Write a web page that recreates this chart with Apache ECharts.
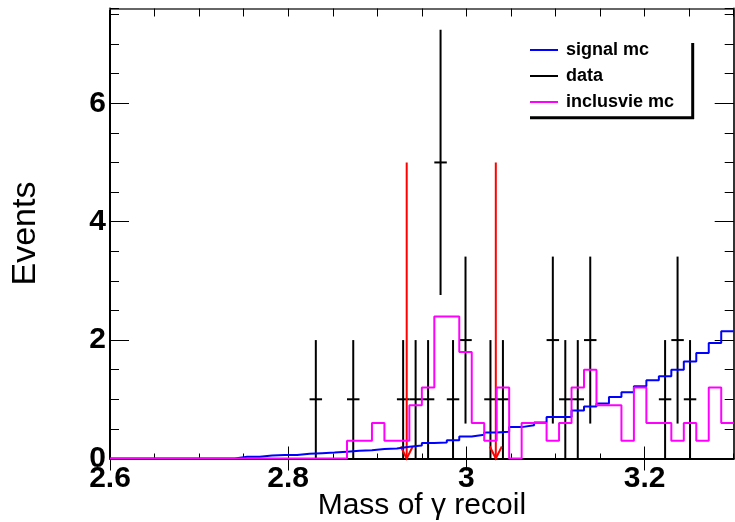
<!DOCTYPE html>
<html>
<head>
<meta charset="utf-8">
<script src="https://cdn.jsdelivr.net/npm/echarts@6/dist/echarts.min.js"></script>
<style>
  html, body { margin: 0; padding: 0; background: #fff; }
  #chart { width: 735px; height: 522px; }
</style>
</head>
<body>
<div id="chart"></div>
<script>
// Binning of the recoil-mass histograms: 50 bins from 2.6 to 3.3
const X_MIN = 2.6;
const X_MAX = 3.3;
const BIN_W = 0.014;

const xTickLabels = [2.6, 2.8, 3, 3.2];
const yTickLabels = [0, 2, 4, 6];

// signal MC, events per bin
const signalMC = [
  0, 0, 0, 0, 0, 0, 0, 0, 0, 0,
  0.03, 0.03, 0.05, 0.06, 0.06, 0.08, 0.09, 0.10, 0.115, 0.13,
  0.14, 0.16, 0.17, 0.20, 0.22, 0.26, 0.27, 0.31, 0.37, 0.40,
  0.44, 0.45, 0.53, 0.56, 0.61, 0.70, 0.70, 0.81, 0.88, 0.93,
  1.04, 1.12, 1.22, 1.32, 1.39, 1.50, 1.64, 1.78, 1.95, 2.15
];

// inclusive MC, events per bin
const inclusiveMC = [
  0, 0, 0, 0, 0, 0, 0, 0, 0, 0,
  0, 0, 0, 0, 0, 0, 0, 0, 0, 0.3,
  0.3, 0.6, 0.3, 0.3, 0.9, 1.2, 2.4, 2.4, 1.8, 0.6,
  0.3, 1.2, 0, 0.6, 0.6, 0.3, 0.6, 1.2, 1.5, 0.9,
  0.9, 0.3, 1.2, 0.6, 0.6, 0.3, 0.6, 0.3, 1.2, 0.6
];

// data: filled bins, counts and their errors
const dataBins   = [16, 19, 23, 24, 25, 26, 27, 28, 30, 31, 35, 36, 37, 38, 44, 45, 46];
const dataCounts = [1, 1, 1, 1, 1, 5, 1, 2, 1, 1, 2, 1, 1, 2, 1, 2, 1];
const dataErrors = [1, 1, 1, 1, 1, 2.24, 1, 1.41, 1, 1, 1.41, 1, 1, 1.41, 1, 1.41, 1];

// signal window cut positions (arrows drawn from height 5 down to 0)
const cutX = [2.933, 3.033];
const cutTop = 5;

const FONT = 'Liberation Sans';

// histogram outline as points at the bin low edges, closed at the upper edge
function histPoints(values) {
  const pts = values.map((v, k) => [X_MIN + k * BIN_W, v]);
  pts.push([X_MAX, values[values.length - 1]]);
  return pts;
}

const dataPts = dataBins.map((k, i) => [X_MIN + (k + 0.5) * BIN_W, dataCounts[i], dataErrors[i]]);
const cutPts = cutX.map(x => [x, cutTop]);

function renderDataPoint(params, api) {
  const xc = api.value(0), v = api.value(1), e = api.value(2);
  const top = api.coord([xc, v + e]);
  const bot = api.coord([xc, Math.max(v - e, 0)]);
  const left = api.coord([xc - BIN_W / 2, v]);
  const right = api.coord([xc + BIN_W / 2, v]);
  const st = { stroke: '#000', lineWidth: 2 };
  return {
    type: 'group',
    children: [
      { type: 'line', shape: { x1: top[0], y1: top[1], x2: bot[0], y2: bot[1] }, style: st },
      { type: 'line', shape: { x1: left[0], y1: left[1], x2: right[0], y2: right[1] }, style: st }
    ]
  };
}

function renderCut(params, api) {
  const x = api.value(0);
  const top = api.coord([x, api.value(1)]);
  const bot = api.coord([x, 0]);
  const st = { stroke: '#ff0000', lineWidth: 2, fill: null };
  return {
    type: 'group',
    children: [
      { type: 'line', shape: { x1: top[0], y1: top[1], x2: bot[0], y2: bot[1] }, style: st },
      { type: 'polyline', shape: { points: [[bot[0] - 6, bot[1] - 12], [bot[0], bot[1]], [bot[0] + 6, bot[1] - 12]] }, style: st }
    ]
  };
}

const tickLabelStyle = { fontFamily: FONT, fontWeight: 'bold', fontSize: 30, color: '#000' };

function xAxisBase(pos) {
  return {
    type: 'value', min: X_MIN, max: X_MAX, position: pos,
    splitLine: { show: false }, axisLabel: { show: false },
    axisLine: { show: false }
  };
}
function yAxisBase(pos) {
  return {
    type: 'value', min: 0, max: 7.6, position: pos,
    splitLine: { show: false }, axisLabel: { show: false },
    axisLine: { show: false }
  };
}

const chart = echarts.init(document.getElementById('chart'), null, { renderer: 'canvas' });
chart.setOption({
  animation: false,
  backgroundColor: '#fff',
  grid: { left: 110, top: 8.5, width: 623.7, height: 450, outerBoundsMode: 'none', containLabel: false },
  legend: {
    orient: 'vertical', left: 530, top: 41, padding: 0,
    icon: 'rect', itemWidth: 28, itemHeight: 2, itemGap: 8,
    selectedMode: false,
    data: ['signal mc', 'data', 'inclusvie mc'],
    textStyle: { fontFamily: FONT, fontWeight: 'bold', fontSize: 18, color: '#000', padding: [0, 0, 0, 3] }
  },
  graphic: [
    { type: 'line', shape: { x1: 692.7, y1: 43, x2: 692.7, y2: 119 }, style: { stroke: '#000', lineWidth: 3 }, z: 100 },
    { type: 'line', shape: { x1: 530, y1: 117.7, x2: 694, y2: 117.7 }, style: { stroke: '#000', lineWidth: 3 }, z: 100 }
  ],
  xAxis: [
    Object.assign(xAxisBase('bottom'), {
      interval: 0.05,
      axisLine: { show: true, onZero: false, lineStyle: { color: '#000', width: 2 } },
      axisTick: { show: true, inside: true, length: 5, lineStyle: { color: '#000', width: 1 } },
      axisLabel: {
        show: true, customValues: xTickLabels, margin: 5,
        formatter: v => String(Math.round(v * 10) / 10),
        ...tickLabelStyle
      },
      name: 'Mass of γ recoil', nameLocation: 'middle', nameGap: 32, nameMoveOverlap: false,
      nameTextStyle: { fontFamily: FONT, fontSize: 30, color: '#000' }
    }),
    Object.assign(xAxisBase('bottom'), {
      axisTick: { show: true, inside: true, length: 12, customValues: xTickLabels, lineStyle: { color: '#000', width: 1 } }
    }),
    Object.assign(xAxisBase('top'), {
      interval: 0.05,
      axisLine: { show: true, onZero: false, lineStyle: { color: '#666', width: 2 } },
      axisTick: { show: true, inside: true, length: 8, lineStyle: { color: '#000', width: 1 } }
    }),
    Object.assign(xAxisBase('top'), {
      axisTick: { show: true, inside: true, length: 12, customValues: xTickLabels, lineStyle: { color: '#000', width: 1 } }
    })
  ],
  yAxis: [
    Object.assign(yAxisBase('left'), {
      interval: 0.5,
      axisLine: { show: true, onZero: false, lineStyle: { color: '#000', width: 2 } },
      axisTick: { show: true, inside: true, length: 9, lineStyle: { color: '#000', width: 1 } },
      axisLabel: {
        show: true, customValues: yTickLabels, margin: 4,
        formatter: v => String(Math.round(v)),
        ...tickLabelStyle
      },
      name: 'Events', nameLocation: 'middle', nameGap: 67, nameRotate: 90, nameMoveOverlap: false,
      nameTextStyle: { fontFamily: FONT, fontSize: 34, color: '#000' }
    }),
    Object.assign(yAxisBase('left'), {
      axisTick: { show: true, inside: true, length: 19, customValues: yTickLabels, lineStyle: { color: '#000', width: 1 } }
    }),
    Object.assign(yAxisBase('right'), {
      interval: 0.5,
      axisLine: { show: true, onZero: false, lineStyle: { color: '#333', width: 2 } },
      axisTick: { show: true, inside: true, length: 9, lineStyle: { color: '#000', width: 1 } }
    }),
    Object.assign(yAxisBase('right'), {
      axisTick: { show: true, inside: true, length: 19, customValues: yTickLabels, lineStyle: { color: '#000', width: 1 } }
    })
  ],
  series: [
    {
      name: 'signal mc', type: 'line', step: 'end', data: histPoints(signalMC),
      showSymbol: false, symbol: 'none',
      lineStyle: { color: '#0000ff', width: 2 }, itemStyle: { color: '#0000ff' }
    },
    {
      name: 'data', type: 'custom', renderItem: renderDataPoint, data: dataPts,
      itemStyle: { color: '#000' }, encode: { x: 0, y: 1 }
    },
    {
      name: 'inclusvie mc', type: 'line', step: 'end', data: histPoints(inclusiveMC),
      showSymbol: false, symbol: 'none',
      lineStyle: { color: '#ff00ff', width: 2 }, itemStyle: { color: '#ff00ff' }
    },
    {
      name: 'cut', type: 'custom', renderItem: renderCut, data: cutPts,
      itemStyle: { color: '#ff0000' }, encode: { x: 0, y: 1 }
    }
  ]
});
</script>
</body>
</html>
